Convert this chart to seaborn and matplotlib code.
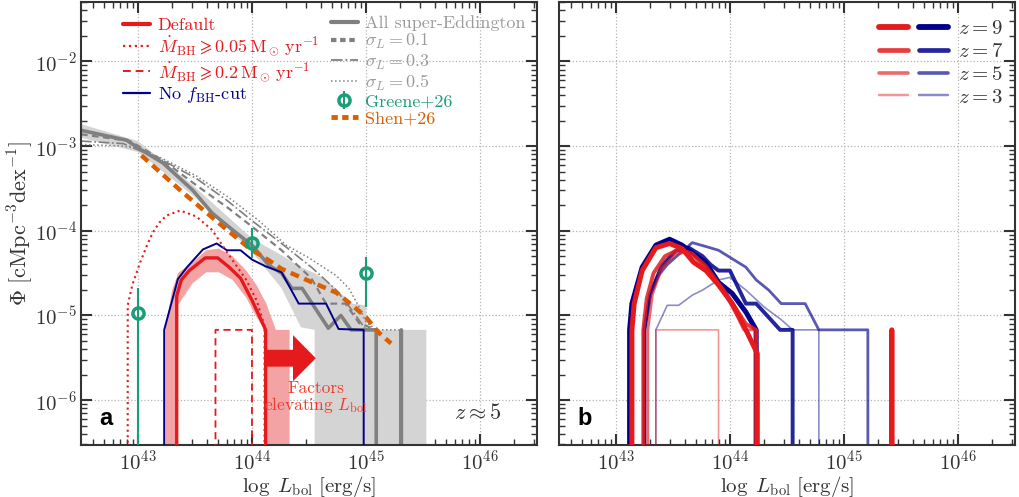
import numpy as np
import matplotlib
matplotlib.use("Agg")
import matplotlib.pyplot as plt
from matplotlib.lines import Line2D
from matplotlib.legend_handler import HandlerTuple
from matplotlib.patches import FancyArrow
from matplotlib.ticker import LogLocator, NullFormatter
import seaborn as sns

E = -np.inf  # empty bin, Phi = 0

# ---------------- panel a (z ~ 5) ----------------
# all super-Eddington (solid grey)
sup_logL = [42.49, 42.90, 43.00, 43.22, 43.48, 43.65, 43.83, 44.00, 44.15, 44.26,
            44.35, 44.44, 44.67, 44.78, 44.87, 45.09, 45.20, 45.31, 45.42]
sup_logphi = [-2.81, -2.93, -3.02, -3.20, -3.52, -3.79, -3.99, -4.17, -4.41, -4.50,
              -4.68, -4.68, -5.15, -5.00, -5.17, -5.17, E, -5.17, E]

# grey scatter band
supband_logL = [42.50, 43.00, 43.48, 44.00, 44.26, 44.43, 44.55, 44.56, 44.65, 44.88,
                45.00, 45.01, 45.53]
supband_hi = [-2.74, -2.94, -3.46, -4.09, -4.29, -4.43, -4.50, -4.51, -4.58, -4.86,
              -4.88, -5.17, -5.17]
supband_lo = [-2.90, -3.07, -3.58, -4.25, -4.68, -5.14, -5.17, E, E, E, E, E, E]

# sigma_L variants
s01_logL = [42.50, 42.93, 43.22, 43.51, 43.80, 44.00, 44.26, 44.52, 44.65, 44.82, 44.94, 45.09, 45.20]
s01_logphi = [-2.86, -2.94, -3.17, -3.46, -3.74, -3.95, -4.23, -4.56, -4.86, -4.86, -5.09, -5.17, E]
s03_logL = [42.50, 42.87, 43.22, 43.51, 43.78, 44.00, 44.26, 44.53, 44.74, 44.89, 45.00, 45.09, 45.20]
s03_logphi = [-2.94, -2.97, -3.17, -3.38, -3.64, -3.88, -4.15, -4.44, -4.70, -4.96, -5.17, -5.17, E]
s05_logL = [42.50, 42.87, 43.00, 43.22, 43.51, 43.80, 44.06, 44.30, 44.50, 44.74, 44.85, 44.94,
            45.00, 45.09, 45.31, 45.42]
s05_logphi = [-2.98, -3.00, -3.03, -3.15, -3.35, -3.61, -3.88, -4.17, -4.32, -4.53, -4.68, -4.90,
              -5.08, -5.17, -5.17, E]

# Shen+26
shen_logL = [43.03, 43.37, 43.71, 43.98, 44.15, 44.26, 44.53, 44.74, 44.88, 45.00, 45.11, 45.22]
shen_logphi = [-3.11, -3.52, -3.91, -4.21, -4.35, -4.45, -4.61, -4.73, -4.88, -5.02, -5.20, -5.33]

# Greene+26
greene_logL = [43.0, 44.0, 45.0]
greene_logphi = [-4.97, -4.14, -4.50]
greene_lo = [-6.60, -4.32, -4.90]
greene_hi = [-4.68, -3.97, -4.31]

# default model and band
def_logL = [43.24, 43.34, 43.38, 43.45, 43.59, 43.70, 43.80, 43.90, 44.00, 44.12, 44.22]
def_logphi = [E, -4.77, -4.58, -4.47, -4.32, -4.32, -4.43, -4.56, -4.82, -5.17, E]
defband_logL = [43.24, 43.30, 43.34, 43.35, 43.48, 43.60, 43.71, 43.83, 43.95, 44.04,
                44.11, 44.12, 44.21, 44.33]
defband_hi = [-5.17, -4.70, -4.55, -4.50, -4.37, -4.23, -4.21, -4.30, -4.47, -4.64,
              -4.82, -4.84, -5.17, -5.17]
defband_lo = [E, E, E, -4.88, -4.62, -4.49, -4.49, -4.58, -4.79, -5.02, -5.17, E, E, E]

# accretion-rate cuts
mdot005_logL = [42.81, 42.91, 42.95, 43.02, 43.08, 43.13, 43.19, 43.25, 43.37, 43.51,
                43.65, 43.80, 43.95, 44.04, 44.11, 44.21]
mdot005_logphi = [E, -4.88, -4.64, -4.37, -4.17, -4.02, -3.90, -3.82, -3.76, -3.83,
                  -3.99, -4.29, -4.58, -4.82, -5.12, E]
mdot02_logL = [43.58, 43.68, 43.79, 43.90, 44.00, 44.10]
mdot02_logphi = [E, -5.17, -5.17, -5.17, -5.17, E]

# no f_BH cut
nocut_logL = [43.13, 43.23, 43.35, 43.43, 43.57, 43.69, 43.78, 43.90, 44.00, 44.12,
              44.26, 44.41, 44.65, 44.76, 44.98, 45.08]
nocut_logphi = [E, -5.17, -4.57, -4.43, -4.22, -4.15, -4.23, -4.23, -4.34, -4.42,
                -4.49, -4.86, -4.86, -5.16, -5.17, E]

# ---------------- panel b (redshift evolution) ----------------
zs = [9, 7, 5, 3]
red_logL = {
    9: [43.03, 43.14, 43.16, 43.23, 43.35, 43.47, 43.58, 43.68, 43.79, 43.90, 44.02, 44.14,
        44.24, 44.34, 45.32, 45.42, 45.52],
    7: [43.14, 43.24, 43.27, 43.33, 43.43, 43.55, 43.67, 43.79, 43.90, 44.02, 44.14, 44.23, 44.33],
    5: [43.18, 43.28, 43.32, 43.40, 43.52, 43.62, 43.73, 43.85, 43.97, 44.06, 44.12, 44.23, 44.33],
    3: [43.25, 43.35, 43.45, 43.55, 43.65, 43.75, 43.85, 43.90, 44.00],
}
red_logphi = {
    9: [E, -5.17, -4.86, -4.47, -4.20, -4.15, -4.21, -4.37, -4.47, -4.64, -4.86, -5.17,
        -5.45, E, E, -5.17, E],
    7: [E, -5.17, -4.80, -4.50, -4.30, -4.22, -4.27, -4.42, -4.62, -4.85, -5.10, -5.17, E],
    5: [E, -5.17, -4.75, -4.45, -4.28, -4.25, -4.36, -4.55, -4.78, -5.00, -5.17, -5.17, E],
    3: [E, -5.17, -5.17, -5.17, -5.17, -5.17, -5.17, -5.17, E],
}
blue_logL = {
    9: [43.02, 43.12, 43.14, 43.23, 43.35, 43.47, 43.58, 43.70, 43.79, 43.90, 44.02, 44.14,
        44.23, 44.33],
    7: [43.15, 43.25, 43.30, 43.40, 43.52, 43.64, 43.76, 43.83, 43.90, 44.00, 44.14, 44.23,
        44.44, 44.55, 44.66],
    5: [43.15, 43.25, 43.29, 43.36, 43.45, 43.55, 43.67, 43.80, 43.90, 44.14, 44.23, 44.34,
        44.45, 44.66, 44.78, 45.00, 45.21, 45.32],
    3: [43.25, 43.35, 43.45, 43.55, 43.67, 43.76, 43.83, 43.90, 44.00, 44.14, 44.30, 44.45,
        44.55, 44.78, 44.88],
}
blue_logphi = {
    9: [E, -5.17, -4.86, -4.43, -4.17, -4.10, -4.17, -4.29, -4.38, -4.61, -4.74, -4.96, -5.17, E],
    7: [E, -5.17, -4.75, -4.42, -4.24, -4.20, -4.30, -4.40, -4.47, -4.47, -4.86, -4.86,
        -5.17, -5.17, E],
    5: [E, -5.17, -4.80, -4.55, -4.40, -4.28, -4.14, -4.19, -4.23, -4.43, -4.58, -4.70,
        -4.86, -4.86, -5.17, -5.17, -5.17, E],
    3: [E, -5.17, -4.88, -4.88, -4.76, -4.70, -4.64, -4.58, -4.55, -4.70, -4.90, -5.05,
        -5.17, -5.17, E],
}
z_lw = {9: 3.6, 7: 2.8, 5: 2.0, 3: 1.2}
z_alpha = {9: 1.0, 7: 0.85, 5: 0.65, 3: 0.45}

RED = "#e41a1c"
NAVY = "#00008b"
GREY = "#808080"
LGREY = "#d4d4d4"
PINK = "#f4a3a4"
GREEN = "#1b9e77"
ORANGE = "#d95f02"
TGREY = "#9a9a9a"
INK = "#333333"


def p(v):
    return 10.0 ** np.asarray(v, dtype=float)


sns.set_theme(style="ticks")
plt.rcParams.update({
    "font.family": ["cmr10", "DejaVu Serif"],
    "mathtext.fontset": "cm",
    "axes.formatter.use_mathtext": True,
    "axes.unicode_minus": False,
    "axes.edgecolor": INK,
    "axes.linewidth": 1.5,
})


def line(ax, logL, logphi, **kw):
    sns.lineplot(x=p(logL), y=p(logphi), ax=ax, estimator=None, sort=False,
                 legend=False, **kw)


def style_axes(ax, left_labels=True):
    ax.set_xscale("log")
    ax.set_yscale("log")
    ax.set_xlim(10 ** 42.5, 10 ** 46.5)
    ax.set_ylim(10 ** -6.53, 10 ** -1.3)
    for axis in (ax.xaxis, ax.yaxis):
        axis.set_major_locator(LogLocator(base=10, numticks=30))
        axis.set_minor_locator(LogLocator(base=10, subs=np.arange(2, 10), numticks=60))
        axis.set_minor_formatter(NullFormatter())
    ax.tick_params(which="both", direction="in", top=True, right=True,
                   color=INK, labelcolor=INK, labelsize=15)
    ax.tick_params(which="major", length=8, width=1.5, pad=3)
    ax.tick_params(which="minor", length=4, width=1.0)
    ax.tick_params(axis="y", labelleft=left_labels)
    ax.grid(True, which="major", ls=":", color="#b5b5b5", lw=0.9)
    ax.set_xlabel(r"$\log\ L_{\rm bol}\ [\rm erg/s]$", fontsize=15, color=INK, labelpad=0)


fig = plt.figure(figsize=(10.2, 4.97), dpi=100)
ax1 = fig.add_axes([0.0794, 0.1046, 0.447, 0.891])
ax2 = fig.add_axes([0.548, 0.1046, 0.447, 0.891])

# ---------- panel a ----------
ax1.fill_between(p(supband_logL), p(supband_lo), p(supband_hi), color=LGREY, lw=0, zorder=1)
ax1.fill_between(p(defband_logL), p(defband_lo), p(defband_hi), color=PINK, lw=0, zorder=1.5)

line(ax1, s05_logL, s05_logphi, color=GREY, lw=1.1, linestyle=":", zorder=2)
line(ax1, s03_logL, s03_logphi, color=GREY, lw=1.2, linestyle="-.", zorder=2)
line(ax1, s01_logL, s01_logphi, color=GREY, lw=1.6, linestyle=(0, (3, 2)), zorder=2)
line(ax1, sup_logL, sup_logphi, color=GREY, lw=2.6, zorder=2.5)
line(ax1, nocut_logL, nocut_logphi, color=NAVY, lw=1.4, zorder=3)
line(ax1, shen_logL, shen_logphi, color=ORANGE, lw=3.2, linestyle=(0, (2, 1.3)), zorder=3.5)
line(ax1, mdot005_logL, mdot005_logphi, color=RED, lw=1.5, linestyle=":", zorder=4)
line(ax1, mdot02_logL, mdot02_logphi, color=RED, lw=1.3, linestyle=(0, (4, 2.5)), zorder=4)
line(ax1, def_logL, def_logphi, color=RED, lw=2.4, zorder=4.5)

g_y = p(greene_logphi)
g_err = [g_y - p(greene_lo), p(greene_hi) - g_y]
greene = ax1.errorbar(p(greene_logL), g_y, yerr=g_err, fmt="o", ms=8, mfc="none",
                      mec=GREEN, mew=2.5, ecolor=GREEN, elinewidth=1.5, capsize=0, zorder=6)

ax1.add_patch(FancyArrow(0.408, 0.196, 0.107, 0, width=0.038, head_width=0.104,
                         head_length=0.05, length_includes_head=True, color=RED,
                         lw=0, transform=ax1.transAxes, zorder=5))
ax1.text(0.515, 0.106, "Factors\n" + r"elevating $L_{\rm bol}$", transform=ax1.transAxes,
         ha="center", va="center", color="#f23b2c", fontsize=12.5, linespacing=0.95, zorder=6)
ax1.text(0.921, 0.073, r"$z\approx5$", transform=ax1.transAxes, ha="right", va="center",
         fontsize=16, color=INK)
ax1.text(0.04, 0.045, "a", transform=ax1.transAxes, fontsize=17, fontweight="bold",
         family="Liberation Sans", color="black")

style_axes(ax1, True)
ax1.set_ylabel(r"$\Phi\ [\mathrm{cMpc}^{-3}\mathrm{dex}^{-1}]$", fontsize=16, color=INK, labelpad=0)

h1 = [Line2D([], [], color=RED, lw=3),
      Line2D([], [], color=RED, lw=1.6, ls=":"),
      Line2D([], [], color=RED, lw=1.4, ls=(0, (4, 2.5))),
      Line2D([], [], color=NAVY, lw=1.6)]
l1 = ["Default",
      r"$\dot{M}_{\rm BH}\geqslant0.05\,{\rm M_\odot\,yr^{-1}}$",
      r"$\dot{M}_{\rm BH}\geqslant0.2\,{\rm M_\odot\,yr^{-1}}$",
      r"No $f_{\rm BH}$-cut"]
leg1 = ax1.legend(h1, l1, loc="upper left", bbox_to_anchor=(0.093, 0.965), frameon=False,
                  fontsize=13, handlelength=1.5, handletextpad=0.4, labelspacing=0.1,
                  borderaxespad=0, borderpad=0, labelcolor=[RED, RED, RED, NAVY])
ax1.add_artist(leg1)

h2 = [Line2D([], [], color=GREY, lw=3),
      Line2D([], [], color=GREY, lw=3, ls=(0, (1.3, 0.9))),
      Line2D([], [], color=GREY, lw=1.3, ls="-."),
      Line2D([], [], color=GREY, lw=1.1, ls=":"),
      greene,
      Line2D([], [], color=ORANGE, lw=3.5, ls=(0, (1.3, 0.9)))]
l2 = ["All super-Eddington", r"$\sigma_L=0.1$", r"$\sigma_L=0.3$", r"$\sigma_L=0.5$",
      "Greene+26", "Shen+26"]
ax1.legend(h2, l2, loc="upper left", bbox_to_anchor=(0.548, 0.97), frameon=False,
           fontsize=13, handlelength=1.5, handletextpad=0.4, labelspacing=0.06,
           borderaxespad=0, borderpad=0,
           labelcolor=[TGREY, TGREY, TGREY, TGREY, GREEN, ORANGE])

# ---------- panel b ----------
for z in zs[::-1]:
    line(ax2, blue_logL[z], blue_logphi[z], color=NAVY, lw=z_lw[z], alpha=z_alpha[z], zorder=2)
for z in zs[::-1]:
    line(ax2, red_logL[z], red_logphi[z], color=RED, lw=z_lw[z], alpha=z_alpha[z], zorder=3)

ax2.text(0.04, 0.045, "b", transform=ax2.transAxes, fontsize=17, fontweight="bold",
         family="Liberation Sans", color="black")
style_axes(ax2, False)

h3 = [(Line2D([], [], color=RED, lw=z_lw[z] + 0.6, alpha=z_alpha[z]),
       Line2D([], [], color=NAVY, lw=z_lw[z] + 0.6, alpha=z_alpha[z])) for z in zs]
l3 = [r"$z=%d$" % z for z in zs]
ax2.legend(h3, l3, loc="upper right", bbox_to_anchor=(0.975, 0.96), frameon=False,
           fontsize=15, handlelength=3.3, handletextpad=0.5, labelspacing=0.2,
           borderaxespad=0, borderpad=0, labelcolor=INK,
           handler_map={tuple: HandlerTuple(ndivide=None, pad=0.5)})

fig.savefig("out.png", dpi=100)
